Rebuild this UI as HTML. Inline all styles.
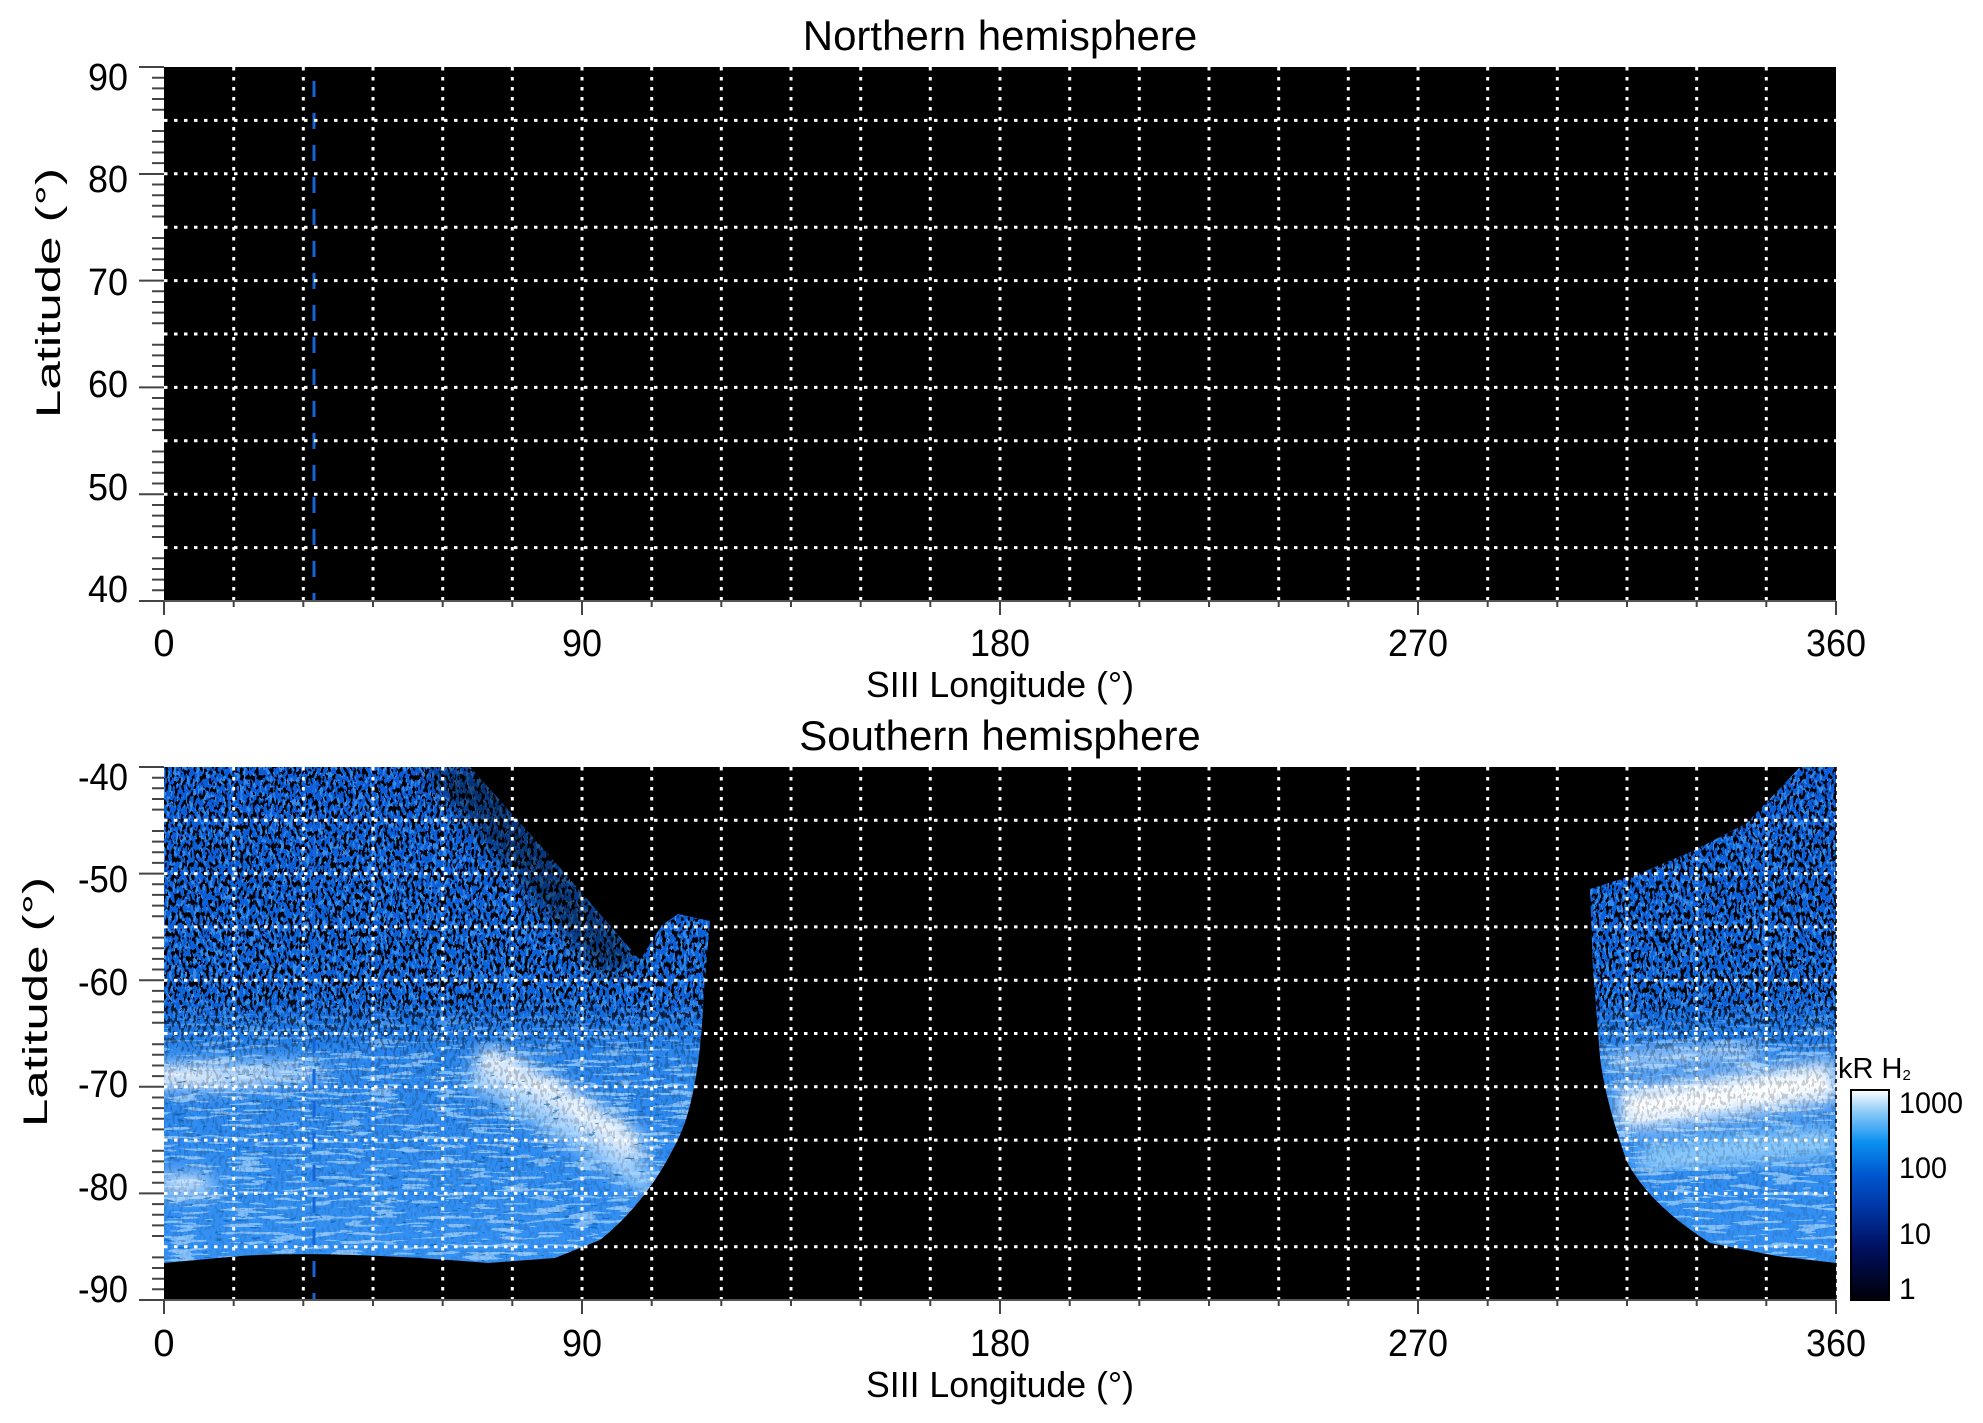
<!DOCTYPE html>
<html><head><meta charset="utf-8"><style>
html,body{margin:0;padding:0;background:#fff;}
svg{display:block;font-family:"Liberation Sans",Arial,sans-serif;}
</style></head><body>
<svg width="1983" height="1423" viewBox="0 0 1983 1423" xmlns="http://www.w3.org/2000/svg">
<defs>
<filter id="noise" x="0" y="0" width="100%" height="100%">
<feTurbulence type="fractalNoise" baseFrequency="0.32 0.16" numOctaves="2" seed="7"/>
<feColorMatrix type="matrix" values="0 0 0 0 0  0 0 0 0 0  0 0 0 0 0  1.8 0 0 0 -0.4"/>
<feComponentTransfer><feFuncA type="discrete" tableValues="0 0 0 0.95 1"/></feComponentTransfer>
</filter>
<filter id="noise2" x="0" y="0" width="100%" height="100%">
<feTurbulence type="fractalNoise" baseFrequency="0.3 0.14" numOctaves="2" seed="3"/>
<feColorMatrix type="matrix" values="0 0 0 0 0.15  0 0 0 0 0.55  0 0 0 0 1  1.6 0 0 0 -0.3"/>
<feComponentTransfer><feFuncA type="discrete" tableValues="0 0 0 0.8 0.9"/></feComponentTransfer>
</filter>
<filter id="streak" x="0" y="0" width="100%" height="100%">
<feTurbulence type="fractalNoise" baseFrequency="0.03 0.25" numOctaves="2" seed="11"/>
<feColorMatrix type="matrix" values="0 0 0 0 0.45  0 0 0 0 0.72  0 0 0 0 1  1.8 0 0 0 -0.45"/>
<feComponentTransfer><feFuncA type="discrete" tableValues="0 0 0 0.6 0.7"/></feComponentTransfer>
</filter>
<filter id="dstreak" x="0" y="0" width="100%" height="100%">
<feTurbulence type="fractalNoise" baseFrequency="0.08 0.3" numOctaves="2" seed="21"/>
<feColorMatrix type="matrix" values="0 0 0 0 0  0 0 0 0 0.1  0 0 0 0 0.4  1.8 0 0 0 -0.5"/>
<feComponentTransfer><feFuncA type="discrete" tableValues="0 0 0 0 0.7"/></feComponentTransfer>
</filter>
<filter id="blur"><feGaussianBlur stdDeviation="9"/></filter>
<linearGradient id="base" x1="0" y1="767" x2="0" y2="1263" gradientUnits="userSpaceOnUse">
<stop offset="0" stop-color="#0a5cd8"/><stop offset="0.48" stop-color="#0b62d8"/>
<stop offset="0.58" stop-color="#2a86ee"/><stop offset="1" stop-color="#3592f4"/>
</linearGradient>
<linearGradient id="nm" x1="0" y1="767" x2="0" y2="1263" gradientUnits="userSpaceOnUse">
<stop offset="0" stop-color="#fff"/><stop offset="0.46" stop-color="#fff"/>
<stop offset="0.58" stop-color="#333"/><stop offset="1" stop-color="#111"/>
</linearGradient>
<mask id="nmask"><rect x="160" y="760" width="1690" height="520" fill="url(#nm)"/></mask>
<linearGradient id="sm" x1="0" y1="767" x2="0" y2="1263" gradientUnits="userSpaceOnUse">
<stop offset="0" stop-color="#000"/><stop offset="0.45" stop-color="#000"/>
<stop offset="0.6" stop-color="#fff"/><stop offset="1" stop-color="#fff"/>
</linearGradient>
<mask id="smask"><rect x="160" y="760" width="1690" height="520" fill="url(#sm)"/></mask>
<linearGradient id="cb" x1="0" y1="1" x2="0" y2="0">
<stop offset="0" stop-color="#000008"/><stop offset="0.25" stop-color="#001060"/>
<stop offset="0.45" stop-color="#0038a8"/><stop offset="0.6" stop-color="#0058d0"/>
<stop offset="0.75" stop-color="#0a90f0"/><stop offset="0.9" stop-color="#90ccf8"/>
<stop offset="1" stop-color="#ffffff"/>
</linearGradient>
<clipPath id="cl"><path d="M164,767 L470,767 L540,845 L640,960 L662,925 L678,914 L710,921 L704,990 Q700,1090 680,1135 Q650,1200 600,1240 L555,1258 L488,1263 Q330,1250 240,1256 L164,1263 Z"/></clipPath>
<clipPath id="cr"><path d="M1800,767 L1836,767 L1836,1263 L1777,1256 L1710,1243 Q1650,1205 1627,1162 Q1605,1100 1600,1057 L1593,970 L1590,889 L1643,872 L1693,851 L1747,823 Z"/></clipPath>
</defs>

<rect x="164" y="67" width="1672" height="534" fill="#000"/>
<rect x="164" y="767" width="1672" height="533" fill="#000"/>

<g clip-path="url(#cl)">
<rect x="160" y="760" width="560" height="510" fill="url(#base)"/>
<rect x="160" y="760" width="560" height="510" filter="url(#streak)" mask="url(#smask)"/>
<g filter="url(#blur)">
<ellipse cx="200" cy="1076" rx="80" ry="11" fill="#fff"/>
<ellipse cx="270" cy="1072" rx="60" ry="8" fill="#cfe8ff"/>
<path d="M480,1055 Q560,1090 640,1150" stroke="#fff" stroke-width="22" fill="none"/>
<path d="M470,1075 Q560,1120 650,1185" stroke="#a8d6ff" stroke-width="22" fill="none"/>
<ellipse cx="185" cy="1185" rx="30" ry="10" fill="#dff0ff"/>
</g>
<rect x="160" y="760" width="560" height="510" filter="url(#dstreak)" mask="url(#smask)" opacity="0.8"/>
<rect x="160" y="760" width="560" height="510" filter="url(#noise2)" mask="url(#nmask)" opacity="0.5"/>
<rect x="160" y="760" width="560" height="510" filter="url(#noise)" mask="url(#nmask)"/>
<path d="M420,767 L490,767 L640,960 L600,975 Z" fill="#000" opacity="0.45" filter="url(#blur)"/>
</g>

<g clip-path="url(#cr)">
<rect x="1580" y="760" width="260" height="510" fill="url(#base)"/>
<rect x="1580" y="760" width="260" height="510" filter="url(#streak)" mask="url(#smask)"/>
<g filter="url(#blur)">
<path d="M1620,1110 Q1720,1098 1836,1080" stroke="#fff" stroke-width="40" fill="none"/>
<path d="M1610,1062 Q1680,1055 1760,1050" stroke="#e0f0ff" stroke-width="12" fill="none"/>
<path d="M1640,1160 Q1740,1150 1836,1140" stroke="#8ccafc" stroke-width="30" fill="none"/>
</g>
<rect x="1580" y="760" width="260" height="510" filter="url(#noise2)" mask="url(#nmask)" opacity="0.5"/>
<rect x="1580" y="760" width="260" height="510" filter="url(#noise)" mask="url(#nmask)"/>
</g>

<line x1="314" y1="81" x2="314" y2="601" stroke="#1565d8" stroke-width="3" stroke-dasharray="16 16"/>
<line x1="314" y1="781" x2="314" y2="1300" stroke="#1565d8" stroke-width="3" stroke-dasharray="16 16"/>

<g stroke="#fff" stroke-width="3" stroke-dasharray="3.5 6.5" fill="none">
<path d="M233.7,67V601M303.3,67V601M373,67V601M442.7,67V601M512.3,67V601M582,67V601M651.7,67V601M721.3,67V601M791,67V601M860.7,67V601M930.3,67V601M1000,67V601M1069.7,67V601M1139.3,67V601M1209,67V601M1278.7,67V601M1348.3,67V601M1418,67V601M1487.7,67V601M1557.3,67V601M1627,67V601M1696.7,67V601M1766.3,67V601"/>
<path d="M164,120.4H1836M164,173.8H1836M164,227.2H1836M164,280.6H1836M164,334H1836M164,387.4H1836M164,440.8H1836M164,494.2H1836M164,547.6H1836"/>
<path d="M233.7,767V1300M303.3,767V1300M373,767V1300M442.7,767V1300M512.3,767V1300M582,767V1300M651.7,767V1300M721.3,767V1300M791,767V1300M860.7,767V1300M930.3,767V1300M1000,767V1300M1069.7,767V1300M1139.3,767V1300M1209,767V1300M1278.7,767V1300M1348.3,767V1300M1418,767V1300M1487.7,767V1300M1557.3,767V1300M1627,767V1300M1696.7,767V1300M1766.3,767V1300"/>
<path d="M164,820.3H1836M164,873.6H1836M164,926.9H1836M164,980.2H1836M164,1033.5H1836M164,1086.8H1836M164,1140.1H1836M164,1193.4H1836M164,1246.7H1836"/>
<path d="M1836,767V1300" stroke-dasharray="4 4" stroke="#000" stroke-width="1.5"/>
</g>

<g stroke="#444" stroke-width="2" fill="none">
<path d="M139,67H164M139,174H164M139,280.6H164M139,387.4H164M139,494.2H164M139,601H164"/>
<path d="M152,77.7H164M152,88.4H164M152,99H164M152,109.7H164M152,131H164M152,141.8H164M152,152.5H164M152,163.1H164M152,184.5H164M152,195.2H164M152,205.8H164M152,216.5H164M152,238H164M152,248.6H164M152,259.3H164M152,270H164M152,291.3H164M152,302H164M152,312.6H164M152,323.3H164M152,344.7H164M152,355.4H164M152,366H164M152,376.7H164M152,398H164M152,408.8H164M152,419.5H164M152,430.1H164M152,451.5H164M152,462.2H164M152,472.8H164M152,483.5H164M152,505H164M152,515.6H164M152,526.3H164M152,537H164M152,558.3H164M152,569H164M152,579.6H164M152,590.3H164"/>
<path d="M139,767H164M139,873.6H164M139,980.2H164M139,1086.8H164M139,1193.4H164M139,1300H164"/>
<path d="M152,777.7H164M152,788.3H164M152,799H164M152,809.6H164M152,831H164M152,841.6H164M152,852.3H164M152,862.9H164M152,884.3H164M152,894.9H164M152,905.6H164M152,916.2H164M152,937.6H164M152,948.2H164M152,958.9H164M152,969.5H164M152,990.9H164M152,1001.5H164M152,1012.2H164M152,1022.8H164M152,1044.2H164M152,1054.8H164M152,1065.5H164M152,1076.1H164M152,1097.5H164M152,1108.1H164M152,1118.8H164M152,1129.4H164M152,1150.8H164M152,1161.4H164M152,1172.1H164M152,1182.7H164M152,1204.1H164M152,1214.7H164M152,1225.4H164M152,1236H164M152,1257.4H164M152,1268H164M152,1278.7H164M152,1289.3H164"/>
<path d="M164,601H1836M164,1300H1836" stroke="#555"/>
<path d="M164,601V615M582,601V615M1000,601V615M1418,601V615M1836,601V615M164,1300V1314M582,1300V1314M1000,1300V1314M1418,1300V1314M1836,1300V1314"/>
<path d="M233.7,601V607M303.3,601V607M373,601V607M442.7,601V607M512.3,601V607M651.7,601V607M721.3,601V607M791,601V607M860.7,601V607M930.3,601V607M1069.7,601V607M1139.3,601V607M1209,601V607M1278.7,601V607M1348.3,601V607M1487.7,601V607M1557.3,601V607M1627,601V607M1696.7,601V607M1766.3,601V607"/>
<path d="M233.7,1300V1306M303.3,1300V1306M373,1300V1306M442.7,1300V1306M512.3,1300V1306M651.7,1300V1306M721.3,1300V1306M791,1300V1306M860.7,1300V1306M930.3,1300V1306M1069.7,1300V1306M1139.3,1300V1306M1209,1300V1306M1278.7,1300V1306M1348.3,1300V1306M1487.7,1300V1306M1557.3,1300V1306M1627,1300V1306M1696.7,1300V1306M1766.3,1300V1306"/>
</g>

<g fill="#000" font-size="38">
<text x="1000" y="50" font-size="42" text-anchor="middle">Northern hemisphere</text>
<text x="1000" y="750" font-size="42" text-anchor="middle">Southern hemisphere</text>
<g text-anchor="end">
<text x="128" y="90" textLength="40" lengthAdjust="spacingAndGlyphs">90</text>
<text x="128" y="192" textLength="40" lengthAdjust="spacingAndGlyphs">80</text>
<text x="128" y="295" textLength="40" lengthAdjust="spacingAndGlyphs">70</text>
<text x="128" y="397" textLength="40" lengthAdjust="spacingAndGlyphs">60</text>
<text x="128" y="500" textLength="40" lengthAdjust="spacingAndGlyphs">50</text>
<text x="128" y="602" textLength="40" lengthAdjust="spacingAndGlyphs">40</text>
<text x="128" y="790" textLength="50" lengthAdjust="spacingAndGlyphs">-40</text>
<text x="128" y="892" textLength="50" lengthAdjust="spacingAndGlyphs">-50</text>
<text x="128" y="995" textLength="50" lengthAdjust="spacingAndGlyphs">-60</text>
<text x="128" y="1097" textLength="50" lengthAdjust="spacingAndGlyphs">-70</text>
<text x="128" y="1200" textLength="50" lengthAdjust="spacingAndGlyphs">-80</text>
<text x="128" y="1302" textLength="50" lengthAdjust="spacingAndGlyphs">-90</text>
</g>
<g text-anchor="middle">
<text x="164" y="656">0</text>
<text x="582" y="656" textLength="40" lengthAdjust="spacingAndGlyphs">90</text>
<text x="1000" y="656" textLength="60" lengthAdjust="spacingAndGlyphs">180</text>
<text x="1418" y="656" textLength="60" lengthAdjust="spacingAndGlyphs">270</text>
<text x="1836" y="656" textLength="60" lengthAdjust="spacingAndGlyphs">360</text>
<text x="164" y="1356">0</text>
<text x="582" y="1356" textLength="40" lengthAdjust="spacingAndGlyphs">90</text>
<text x="1000" y="1356" textLength="60" lengthAdjust="spacingAndGlyphs">180</text>
<text x="1418" y="1356" textLength="60" lengthAdjust="spacingAndGlyphs">270</text>
<text x="1836" y="1356" textLength="60" lengthAdjust="spacingAndGlyphs">360</text>
<text x="1000" y="697" font-size="36" textLength="268" lengthAdjust="spacingAndGlyphs">SIII Longitude (°)</text>
<text x="1000" y="1397" font-size="36" textLength="268" lengthAdjust="spacingAndGlyphs">SIII Longitude (°)</text>
<text transform="translate(60,293) rotate(-90)" font-size="34" textLength="250" lengthAdjust="spacingAndGlyphs">Latitude (°)</text>
<text transform="translate(47,1002) rotate(-90)" font-size="34" textLength="250" lengthAdjust="spacingAndGlyphs">Latitude (°)</text>
</g>
<rect x="1851" y="1090" width="38" height="210" fill="url(#cb)" stroke="#000" stroke-width="2"/>
<g font-size="30">
<text x="1899" y="1113" textLength="64" lengthAdjust="spacingAndGlyphs">1000</text>
<text x="1899" y="1178" textLength="48" lengthAdjust="spacingAndGlyphs">100</text>
<text x="1899" y="1244" textLength="32" lengthAdjust="spacingAndGlyphs">10</text>
<text x="1899" y="1299">1</text>
<text x="1838" y="1078" font-size="29">kR H<tspan font-size="15" dy="2">2</tspan></text>
</g>
</g>
</svg>
</body></html>
